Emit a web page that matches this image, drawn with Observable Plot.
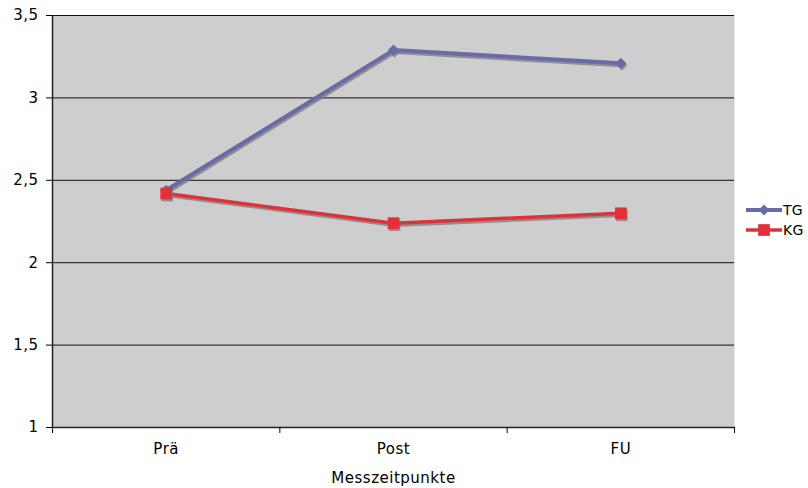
<!DOCTYPE html>
<html>
<head>
<meta charset="utf-8">
<script src="https://cdn.jsdelivr.net/npm/d3@7"></script>
<script src="https://cdn.jsdelivr.net/npm/@observablehq/plot@0.6"></script>
<style>
  body { margin: 0; background: #fff; }
  #chart { position: relative; width: 808px; height: 488px; font-family: "DejaVu Sans", sans-serif; }
  #chart svg text { letter-spacing: 0.5px; }
  #legend { position: absolute; left: 746px; top: 200px; font-size: 14px; letter-spacing: 0.3px; color: #000; }
  .row { display: flex; align-items: center; height: 20px; }
  .row svg { display: block; }
</style>
</head>
<body>
<div id="chart"><div id="legend"></div></div>
<script>
// Messzeitpunkte und Mittelwerte je Gruppe
const zeitpunkte = ["Prä", "Post", "FU"];
const tg = [2.44, 3.29, 3.21];
const kg = [2.42, 2.24, 2.30];
const yTicks = [1, 1.5, 2, 2.5, 3, 3.5];
const gridValues = [1.5, 2, 2.5, 3, 3.5];

const series = [
  {name: "TG", values: tg, color: "#6a6aa8", symbol: "diamond2", r: 5, width: 4},
  {name: "KG", values: kg, color: "#e2303a", symbol: "square", r: 6.6, width: 3.5}
];

const fmt = d => String(d).replace(".", ",");
const FS = 15;

const seriesMarks = series.flatMap(s => {
  const data = s.values.map((v, i) => ({i, wert: v}));
  return [
    Plot.line(data, {x: "i", y: "wert", stroke: "#7a7a7a", strokeOpacity: 0.75, strokeWidth: s.width, dx: 1, dy: 2}),
    Plot.line(data, {x: "i", y: "wert", stroke: s.color, strokeWidth: s.width}),
    Plot.dot(data, {x: "i", y: "wert", symbol: s.symbol, r: s.r, fill: "#7a7a7a", fillOpacity: 0.75, dx: 1, dy: 2}),
    Plot.dot(data, {x: "i", y: "wert", symbol: s.symbol, r: s.r, fill: s.color})
  ];
});

const chart = Plot.plot({
  width: 808,
  height: 488,
  marginLeft: 52,
  marginRight: 74,
  marginTop: 15,
  marginBottom: 61,
  style: {fontFamily: "DejaVu Sans, sans-serif", fontSize: "15px", color: "#000", background: "#fff"},
  x: {type: "linear", domain: [-0.5, zeitpunkte.length - 0.5], axis: null},
  y: {domain: [1, 3.5], axis: null},
  marks: [
    Plot.frame({fill: "#cecece", stroke: "none"}),
    Plot.ruleY(gridValues, {stroke: "#111", strokeWidth: 1}),
    Plot.ruleY([1], {stroke: "#222", strokeWidth: 1.5}),
    Plot.ruleX([-0.5], {stroke: "#222", strokeWidth: 1.5}),
    Plot.axisY({ticks: yTicks, tickFormat: fmt, tickSize: 6, tickPadding: 8, label: null, fontSize: FS}),
    Plot.axisX({ticks: [-0.5, 0.5, 1.5, 2.5], tickFormat: () => "", tickSize: 6, label: null}),
    Plot.axisX({
      ticks: zeitpunkte.map((_, i) => i),
      tickFormat: i => zeitpunkte[i],
      tickSize: 0,
      tickPadding: 16,
      fontSize: FS,
      label: "Messzeitpunkte",
      labelArrow: "none",
      labelAnchor: "center",
      labelOffset: 55
    }),
    ...seriesMarks
  ]
});
document.getElementById("chart").prepend(chart);

// Legende rechts neben dem Diagramm
const legend = d3.select("#legend");
for (const s of series) {
  const row = legend.append("div").attr("class", "row");
  const svg = row.append("svg").attr("width", 37).attr("height", 20);
  svg.append("line").attr("x1", 0).attr("x2", 36).attr("y1", 10).attr("y2", 10)
    .attr("stroke", s.color).attr("stroke-width", s.width);
  const sym = s.symbol === "square" ? d3.symbolSquare : d3.symbolDiamond2;
  svg.append("path").attr("transform", "translate(18,10)")
    .attr("d", d3.symbol(sym, Math.PI * s.r * s.r)()).attr("fill", s.color);
  row.append("span").text(s.name);
}
</script>
</body>
</html>
